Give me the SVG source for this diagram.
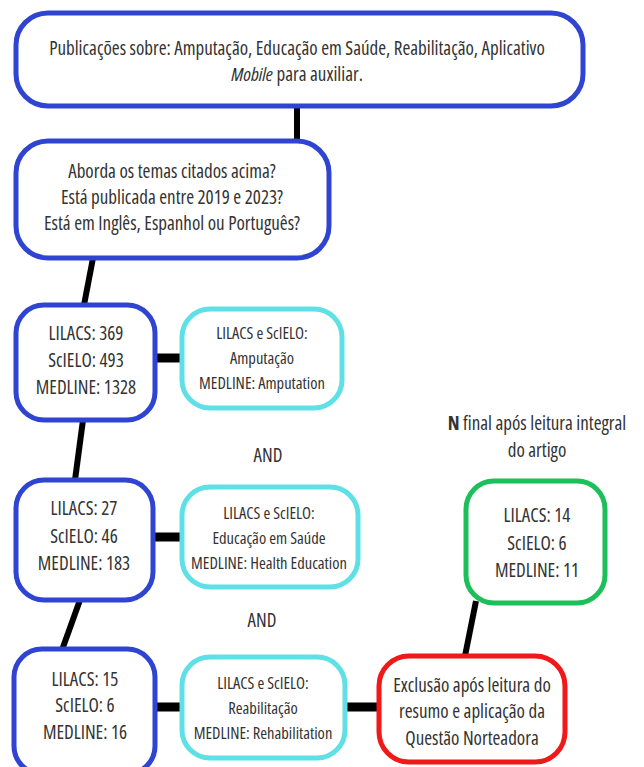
<svg xmlns="http://www.w3.org/2000/svg" width="644" height="767" viewBox="0 0 644 767">
<style>
text{font-family:"Open Sans","Liberation Sans",sans-serif;font-size:19px;fill:#333;text-anchor:middle;font-stretch:condensed}
text.s{font-size:16.5px}
.b{fill:#fff;stroke:#2f45d2;stroke-width:5}
.c{fill:#fff;stroke:#5ee0e6;stroke-width:5}
.r{fill:#fff;stroke:#f01818;stroke-width:5}
.g{fill:#fff;stroke:#1cbf5a;stroke-width:5}
.l{stroke:#000;stroke-width:6;fill:none}
.h{stroke:#000;stroke-width:9;fill:none}
</style>
<rect width="644" height="767" fill="#fff"/>
<g id="connectors">
<line class="l" x1="297" y1="106" x2="297" y2="141"/>
<line class="l" x1="93" y1="258" x2="84" y2="305"/>
<line class="h" x1="155" y1="358" x2="181" y2="358"/>
<line class="l" x1="83" y1="420" x2="75" y2="480"/>
<line class="h" x1="152" y1="537" x2="181" y2="537"/>
<line class="l" x1="80" y1="600" x2="62" y2="650"/>
<line class="h" x1="155" y1="707" x2="181" y2="707"/>
<line class="h" x1="345" y1="707" x2="379" y2="707"/>
<line class="l" x1="476" y1="601" x2="465" y2="656"/>
</g>
<g id="n1"><rect class="b" x="16" y="13" width="567" height="93" rx="32"/>
<text x="297" y="55">Publicações sobre: Amputação, Educação em Saúde, Reabilitação, Aplicativo</text>
<text x="297" y="81"><tspan font-style="italic">Mobile</tspan> para auxiliar.</text></g>
<g id="n2"><rect class="b" x="16" y="141" width="313" height="117" rx="32"/>
<text x="172" y="178">Aborda os temas citados acima?</text>
<text x="172" y="204">Está publicada entre 2019 e 2023?</text>
<text x="172" y="230">Está em Inglês, Espanhol ou Português?</text></g>
<g id="n3"><rect class="b" x="16" y="305" width="139" height="115" rx="28"/>
<text x="86" y="340">LILACS: 369</text>
<text x="86" y="367">ScIELO: 493</text>
<text x="86" y="394">MEDLINE: 1328</text></g>
<g id="n4"><rect class="c" x="182" y="309" width="160" height="99" rx="28"/>
<text class="s" x="262" y="339">LILACS e ScIELO:</text>
<text class="s" x="262" y="364">Amputação</text>
<text class="s" x="262" y="389">MEDLINE: Amputation</text></g>
<text x="268" y="462">AND</text>
<g id="n5"><rect class="b" x="16" y="480" width="137" height="120" rx="28"/>
<text x="84" y="515">LILACS: 27</text>
<text x="84" y="543">ScIELO: 46</text>
<text x="84" y="570">MEDLINE: 183</text></g>
<g id="n6"><rect class="c" x="182" y="487" width="176" height="100" rx="28"/>
<text class="s" x="269" y="519">LILACS e ScIELO:</text>
<text class="s" x="269" y="544">Educação em Saúde</text>
<text class="s" x="269" y="569">MEDLINE: Health Education</text></g>
<text x="262" y="627">AND</text>
<g id="n7"><rect class="b" x="14" y="649" width="141" height="125" rx="28"/>
<text x="85" y="686">LILACS: 15</text>
<text x="85" y="712">ScIELO: 6</text>
<text x="85" y="739">MEDLINE: 16</text></g>
<g id="n8"><rect class="c" x="182" y="657" width="163" height="101" rx="28"/>
<text class="s" x="263" y="689">LILACS e ScIELO:</text>
<text class="s" x="263" y="714">Reabilitação</text>
<text class="s" x="263" y="739">MEDLINE: Rehabilitation</text></g>
<g id="n9"><rect class="r" x="379" y="656" width="186" height="106" rx="30"/>
<text x="472" y="692">Exclusão após leitura do</text>
<text x="472" y="718">resumo e aplicação da</text>
<text x="472" y="745">Questão Norteadora</text></g>
<text x="537" y="430"><tspan font-weight="bold">N</tspan> final após leitura integral</text>
<text x="537" y="457">do artigo</text>
<g id="n10"><rect class="g" x="466" y="481" width="139" height="122" rx="28"/>
<text x="537" y="522">LILACS: 14</text>
<text x="537" y="550">ScIELO: 6</text>
<text x="537" y="577">MEDLINE: 11</text></g>
</svg>
